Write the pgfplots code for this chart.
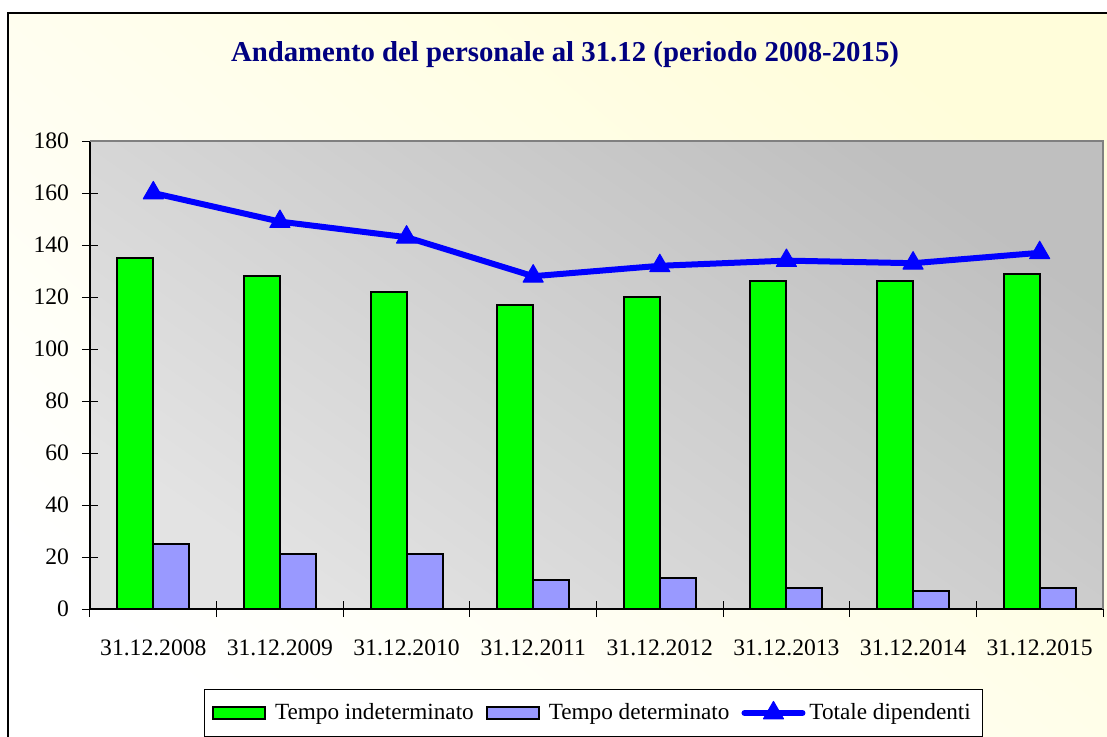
\documentclass[border=0pt]{standalone}
\usepackage{fontspec}
\setmainfont{Liberation Serif}
\usepackage{pgfplots}
\pgfplotsset{compat=1.18}

\definecolor{bargreen}{RGB}{0,255,0}
\definecolor{barlav}{RGB}{153,153,255}
\definecolor{titlenavy}{RGB}{0,0,128}
\definecolor{paleyellow}{RGB}{255,253,218}

\pgfplotsset{
  barlegend/.style={legend image code/.code={%
    \draw[##1] (0pt,-3pt) rectangle (26pt,3pt);
    \path (28.5pt,0pt);}},
  linelegend/.style={legend image code/.code={%
    \draw[##1, mark repeat=2, mark phase=2] plot coordinates {(0pt,0pt) (14.5pt,0pt) (29pt,0pt)};}},
}

\begin{document}
\begin{tikzpicture}
\useasboundingbox (-45pt,-63.5pt) rectangle (508.5pt,304.5pt);
\clip (-45pt,-63.5pt) rectangle (508.5pt,304.5pt);
% outer chart area
\shade[top color=paleyellow, bottom color=white, shading angle=-40]
  (-41pt,-90pt) rectangle (530pt,298pt);
\draw[black, line width=0.6pt] (-41pt,-90pt) rectangle (530pt,298pt);

\node[font=\bfseries\fontsize{14.4}{16}\selectfont, text=titlenavy]
  at (237.5pt,277pt) {Andamento del personale al 31.12 (periodo 2008-2015)};

\begin{axis}[
    at={(0pt,0pt)}, anchor=south west,
    scale only axis,
    width=506.5pt, height=234pt,
    xmin=-0.5, xmax=7.5,
    ymin=0, ymax=180,
    ytick={0,20,...,180},
    xtick={-0.5,0.5,...,7.5},
    x tick label as interval,
    xticklabels={31.12.2008,31.12.2009,31.12.2010,31.12.2011,31.12.2012,31.12.2013,31.12.2014,31.12.2015},
    tick align=center,
    major tick length=8pt,
    tick style={black, line width=0.5pt},
    axis x line*=bottom, axis y line*=left,
    axis line style={black, line width=0.6pt},
    axis background/.style={shade, top color=black!25, bottom color=black!11, shading angle=-35},
    tick label style={font=\fontsize{11.8}{13}\selectfont},
    /pgf/number format/assume math mode=true,
    xticklabel style={yshift=-8pt},
    yticklabel style={xshift=-3pt},
    legend columns=3,
    legend style={at={(0.497,-0.2222)}, anchor=center, draw=black, fill=white,
        font=\fontsize{11.6}{13}\selectfont, line width=0.5pt,
        /tikz/every even column/.append style={column sep=4pt},
        inner xsep=4pt, inner ysep=5pt},
    clip=false,
]
\draw[black!50, line width=0.6pt] (rel axis cs:0,1) -- (rel axis cs:1,1) -- (rel axis cs:1,0);

\addplot[ybar, bar width=18pt, bar shift=-9pt, fill=bargreen, draw=black, line width=1pt, barlegend]
coordinates {(0,135) (1,128) (2,122) (3,117) (4,120) (5,126) (6,126) (7,129)};
\addlegendentry{Tempo indeterminato}

\addplot[ybar, bar width=18pt, bar shift=9pt, fill=barlav, draw=black, line width=1pt, barlegend]
coordinates {(0,25) (1,21) (2,21) (3,11) (4,12) (5,8) (6,7) (7,8)};
\addlegendentry{Tempo determinato}

\addplot[sharp plot, color=blue, line width=3pt, line cap=round, line join=round,
    mark=triangle*, mark size=5.8pt, mark options={solid, line width=0.5pt, fill=blue}, linelegend]
coordinates {(0,160) (1,149) (2,143) (3,128) (4,132) (5,134) (6,133) (7,137)};
\addlegendentry{Totale dipendenti}
\end{axis}
\end{tikzpicture}
\end{document}
